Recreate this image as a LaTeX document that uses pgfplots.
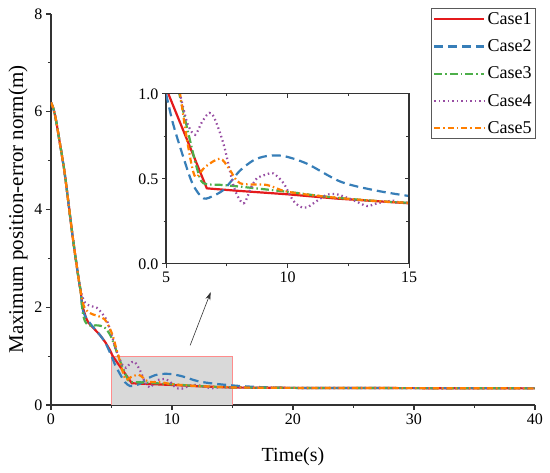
\documentclass[border=0pt]{standalone}
\usepackage{fontspec}
\setmainfont{Liberation Serif}
\usepackage{pgfplots}
\usepackage{pgfplotstable}
\pgfplotsset{compat=1.18}
\usetikzlibrary{arrows.meta}

\definecolor{cA}{RGB}{228,26,28}
\definecolor{cB}{RGB}{55,126,184}
\definecolor{cC}{RGB}{77,175,74}
\definecolor{cD}{RGB}{152,78,163}
\definecolor{cE}{RGB}{255,127,0}

\pgfplotstableread{
x y
0 6.19
0.15 6.10
0.3 5.97
0.47 5.75
0.65 5.48
0.88 5.14
1.1 4.80
1.3 4.42
1.5 4.02
1.75 3.52
1.98 3.10
2.12 2.86
2.26 2.62
2.36 2.46
2.45 2.33
2.6 2.02
2.9 1.78
3.1 1.68
3.6 1.55
4.05 1.43
4.5 1.28
4.88 1.12
5.1 1.00
6.68 0.445
8 0.43
10 0.41
12 0.385
15 0.357
20 0.35
30 0.345
40 0.34
}\caseA

\pgfplotstableread{
x y
0 6.19
0.15 6.10
0.3 5.97
0.47 5.75
0.65 5.48
0.88 5.14
1.1 4.80
1.3 4.42
1.5 4.02
1.75 3.52
1.98 3.10
2.12 2.86
2.26 2.62
2.36 2.46
2.45 2.33
2.6 1.98
2.8 1.83
3.2 1.68
3.6 1.56
4.05 1.43
4.5 1.27
5.0 1.0
5.3 0.82
5.71 0.63
6.1 0.47
6.54 0.386
7.0 0.405
7.36 0.435
7.7 0.49
8.05 0.55
8.6 0.61
9.15 0.635
9.84 0.635
10.8 0.59
12.17 0.485
13.54 0.435
15 0.40
16.5 0.375
18 0.36
20 0.35
30 0.345
40 0.345
}\caseB

\pgfplotstableread{
x y
0 6.19
0.15 6.10
0.3 5.97
0.47 5.75
0.65 5.48
0.88 5.14
1.1 4.80
1.3 4.42
1.5 4.02
1.75 3.52
1.98 3.10
2.12 2.86
2.26 2.62
2.36 2.46
2.45 2.33
2.55 2.05
2.65 1.85
2.8 1.72
3.0 1.65
3.3 1.62
3.7 1.63
4.1 1.62
4.5 1.57
4.9 1.43
5.2 1.25
5.55 1.0
6.0 0.72
6.3 0.55
6.54 0.475
7.3 0.465
8.05 0.455
9.97 0.425
12 0.39
15 0.36
20 0.35
30 0.345
40 0.34
}\caseC

\pgfplotstableread{
x y
0 6.19
0.15 6.10
0.3 5.97
0.47 5.75
0.65 5.48
0.88 5.14
1.1 4.80
1.3 4.42
1.5 4.02
1.75 3.52
1.98 3.10
2.12 2.86
2.26 2.62
2.36 2.46
2.5 2.29
2.8 2.1
3.2 2.03
3.78 1.99
4.2 1.88
4.6 1.74
5.0 1.45
5.3 1.18
5.65 0.955
5.9 0.82
6.2 0.76
6.5 0.84
6.88 0.886
7.36 0.71
7.8 0.45
8.19 0.357
8.5 0.45
8.74 0.504
9.1 0.525
9.42 0.533
9.84 0.475
10.2 0.38
10.52 0.337
10.8 0.333
11.2 0.37
11.6 0.406
12.03 0.41
12.7 0.376
13.27 0.341
13.68 0.357
14.37 0.372
15 0.36
20 0.35
30 0.345
40 0.34
}\caseD

\pgfplotstableread{
x y
0 6.19
0.15 6.10
0.3 5.97
0.47 5.75
0.65 5.48
0.88 5.14
1.1 4.80
1.3 4.42
1.5 4.02
1.75 3.52
1.98 3.10
2.12 2.86
2.26 2.62
2.36 2.46
2.45 2.33
2.6 2.12
2.8 1.98
3.1 1.9
3.5 1.85
3.9 1.82
4.4 1.76
4.7 1.65
5.1 1.42
5.4 1.15
5.58 1.0
5.9 0.70
6.2 0.514
6.6 0.57
7.22 0.62
7.6 0.56
8.05 0.475
9.15 0.465
10 0.425
12 0.39
15 0.36
20 0.35
30 0.345
40 0.34
}\caseE

\pgfplotsset{
  sA/.style={color=cA, line width=2.2pt, solid},
  sB/.style={color=cB, line width=2.2pt, dash pattern=on 9pt off 5pt, smooth},
  sC/.style={color=cC, line width=2.2pt, dash pattern=on 8pt off 3pt on 1.5pt off 3pt, smooth},
  sD/.style={color=cD, line width=2.2pt, dash pattern=on 1.5pt off 3pt, smooth},
  sE/.style={color=cE, line width=2.2pt, dash pattern=on 6pt off 3pt on 1.5pt off 3pt, smooth},
  tick label style={font=\rmfamily\fontsize{16}{18}\selectfont},
}

\begin{document}
\begin{tikzpicture}
\path[use as bounding box] (-51pt,-68pt) rectangle (499pt,405pt);
\begin{axis}[
  at={(0pt,0pt)}, anchor=south west, scale only axis,
  width=484pt, height=391pt,
  xmin=0, xmax=40, ymin=0, ymax=8,
  axis x line*=bottom, axis y line*=left,
  axis line style={line width=1.2pt, black!80},
  xtick={0,10,20,30,40}, ytick={0,2,4,6,8},
  xticklabels={0,10,20,30,40}, yticklabels={0,2,4,6,8},
  minor x tick num=1, minor y tick num=1,
  tick align=outside, major tick length=5pt, minor tick length=3pt,
  every tick/.style={line width=1.2pt, black!80},
  xlabel={Time(s)}, ylabel={Maximum position-error norm(m)},
  xlabel style={font=\fontsize{20}{24}\selectfont, at={(axis description cs:0.5,0)}, anchor=center, yshift=-52pt},
  ylabel style={font=\fontsize{21}{24}\selectfont, at={(axis description cs:0,0.5)}, anchor=center, yshift=33pt},
  legend style={at={(1.002,1.015)}, anchor=north east, draw=gray!70!black,
    line width=0.8pt, font=\fontsize{18}{22}\selectfont, cells={anchor=west},
    inner sep=2pt, row sep=9.8pt},
  legend image code/.code={\draw[#1] (0pt,0pt) -- (50pt,0pt);},
]
\fill[gray!30] (axis cs:5,0) rectangle (axis cs:15,1);
\draw[red!45, line width=0.8pt] (axis cs:5,0) rectangle (axis cs:15,1);
\draw[-{Stealth[length=8pt,width=5pt]}, gray!40!black, line width=0.6pt] (axis cs:11.5,1.22) -- (axis cs:13.2,2.31);
\addplot[sA] table {\caseA};
\addplot[sB] table {\caseB};
\addplot[sC] table {\caseC};
\addplot[sD] table {\caseD};
\addplot[sE] table {\caseE};
\legend{Case1,Case2,Case3,Case4,Case5}
\end{axis}

\begin{axis}[
  at={(115pt,141pt)}, anchor=south west, scale only axis,
  width=243pt, height=170pt,
  xmin=5, xmax=15, ymin=0, ymax=1,
  axis background/.style={fill=white},
  axis line style={line width=1pt, black!80},
  xtick={5,10,15}, ytick={0,0.5,1},
  xticklabels={5,10,15}, yticklabels={0.0,0.5,1.0},
  minor x tick num=1, minor y tick num=1,
  xtick pos=left, ytick pos=left,
  tick align=outside, major tick length=4pt, minor tick length=2.5pt,
  every tick/.style={line width=1pt, black!80},
  clip=true,
]
\addplot[sA] table {\caseA};
\addplot[sB] table {\caseB};
\addplot[sC] table {\caseC};
\addplot[sD] table {\caseD};
\addplot[sE] table {\caseE};
\end{axis}

\begin{axis}[
  at={(115pt,141pt)}, anchor=south west, scale only axis,
  width=243pt, height=170pt,
  xmin=5, xmax=15, ymin=0, ymax=1,
  axis line style={line width=1pt, black!80},
  xtick={5,10,15}, ytick={0,0.5,1},
  minor x tick num=1, minor y tick num=1,
  xtick pos=right, ytick pos=right,
  tick align=inside, major tick length=4pt, minor tick length=2.5pt,
  every tick/.style={line width=1pt, black!80},
  xticklabels={}, yticklabels={},
]
\end{axis}
\end{tikzpicture}
\end{document}
